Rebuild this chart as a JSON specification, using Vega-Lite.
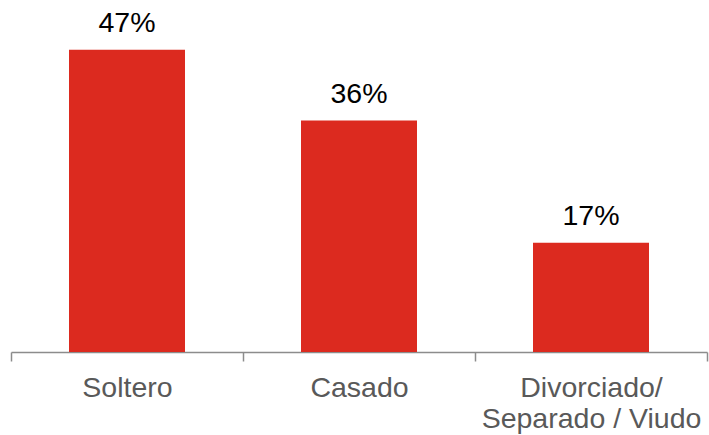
{
  "$schema": "https://vega.github.io/schema/vega-lite/v6.json",
  "width": 696,
  "height": 352,
  "autosize": "none",
  "padding": {"left": 11, "top": 0, "right": 2, "bottom": 83},
  "background": "white",
  "config": {"view": {"stroke": null}, "font": "Liberation Sans"},
  "data": {"values": [
    {"estado": "Soltero", "pct": 47, "etiqueta": "47%"},
    {"estado": "Casado", "pct": 36, "etiqueta": "36%"},
    {"estado": "Divorciado/ Separado / Viudo", "pct": 17, "etiqueta": "17%"}
  ]},
  "encoding": {
    "x": {"field": "estado", "type": "nominal", "sort": null,
      "scale": {"paddingInner": 0, "paddingOuter": 0},
      "axis": {"title": null, "labelAngle": 0, "tickBand": "extent", "tickSize": 9, "tickColor": "#8c8c8c", "tickWidth": 1.5,
        "domainColor": "#8c8c8c", "domainWidth": 1.5, "labelFontSize": 28.5, "labelColor": "#595959", "labelPadding": 12,
        "labelFont": "Liberation Sans", "labelLineHeight": 31, "labelLimit": 0,
        "labelExpr": "datum.label == 'Divorciado/ Separado / Viudo' ? ['Divorciado/', 'Separado / Viudo'] : datum.label"}},
    "y": {"field": "pct", "type": "quantitative", "scale": {"domain": [0, 54.75], "nice": false}, "axis": null}
  },
  "layer": [
    {"mark": {"type": "bar", "color": "#DC2A1F", "width": {"band": 0.5}}},
    {"mark": {"type": "text", "dy": -18, "baseline": "alphabetic", "fontSize": 28.5, "color": "#000000", "font": "Liberation Sans"},
     "encoding": {"text": {"field": "etiqueta", "type": "nominal"}}}
  ]
}
